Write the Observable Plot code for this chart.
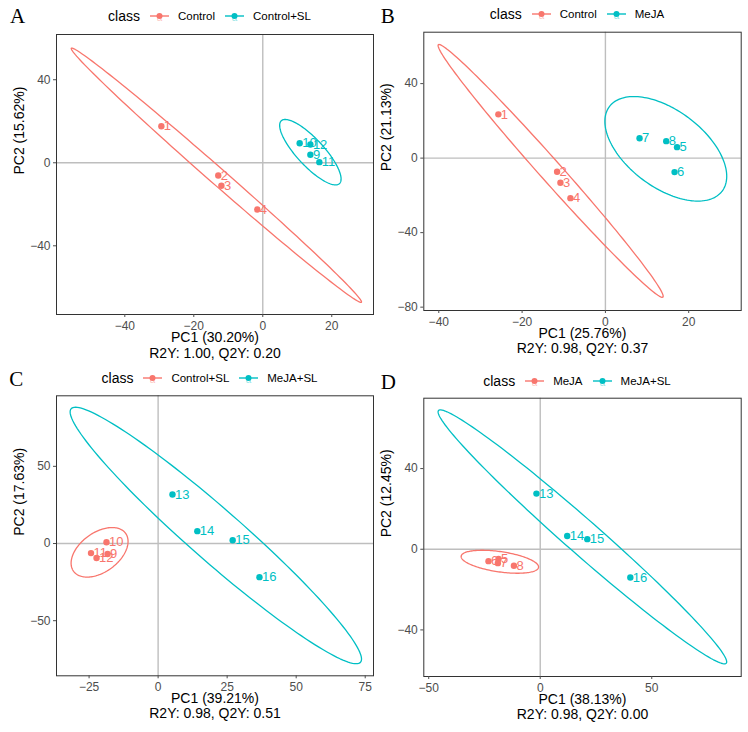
<!DOCTYPE html>
<html>
<head>
<meta charset="utf-8">
<script src="https://cdn.jsdelivr.net/npm/d3@7"></script>
<script src="https://cdn.jsdelivr.net/npm/@observablehq/plot@0.6"></script>
<style>
  html, body { margin: 0; padding: 0; background: #fff; }
  #root { position: relative; width: 748px; height: 732px; background: #fff; font-family: 'Liberation Sans', Arial, sans-serif; }
  .panel { position: absolute; width: 374px; height: 366px; }
  .panel svg.plot { position: absolute; left: 0; top: 0; }
  .letter { position: absolute; font-family: 'Liberation Serif', 'Times New Roman', serif; font-size: 21px; line-height: 21px; color: #000; }
  .legend { position: absolute; display: flex; align-items: center; justify-content: center; height: 20px; }
  .legend .title { font-size: 14px; color: #000; margin-right: 10px; }
  .legend .lab { font-size: 11.5px; color: #000; margin-right: 10px; }
  .legend svg { margin-right: 9px; }
</style>
</head>
<body>
<div id="root"></div>
<script>
// ---------- data ----------
const COLORS = ["#F8766D", "#00BFC4"];

// Panel A
const A_classes = ["Control", "Control+SL"];
const A_label = ["1", "2", "3", "4", "10", "12", "9", "11"];
const A_pc1 = [-29.4, -12.9, -12.0, -1.6, 10.7, 13.8, 13.8, 16.4];
const A_pc2 = [17.6, -6.1, -11.1, -22.5, 9.4, 8.8, 3.9, 0.3];
const A_cls = ["Control", "Control", "Control", "Control", "Control+SL", "Control+SL", "Control+SL", "Control+SL"];
const A_ell_cx = [-13.45, 13.8];
const A_ell_cy = [-6.0, 5.1];
const A_ell_ux = [42.05, 8.43];
const A_ell_uy = [-61.2, -15.13];
const A_ell_vx = [1.56, 2.87];
const A_ell_vy = [2.97, 4.42];
const A_xticks = [-40, -20, 0, 20];
const A_yticks = [-40, 0, 40];
const A_titles = ["PC1 (30.20%)", "R2Y: 1.00, Q2Y: 0.20", "PC2 (15.62%)"];

// Panel B
const B_classes = ["Control", "MeJA"];
const B_label = ["1", "2", "3", "4", "7", "8", "5", "6"];
const B_pc1 = [-25.7, -11.6, -10.8, -8.4, 8.2, 14.6, 17.2, 16.6];
const B_pc2 = [23.5, -7.3, -13.2, -21.5, 10.7, 9.1, 5.9, -7.5];
const B_cls = ["Control", "Control", "Control", "Control", "MeJA", "MeJA", "MeJA", "MeJA"];
const B_ell_cx = [-13.15, 14.5];
const B_ell_cy = [-6.85, 5.0];
const B_ell_ux = [26.95, 13.54];
const B_ell_uy = [-67.75, -22.67];
const B_ell_vx = [1.94, 5.53];
const B_ell_vy = [3.85, 16.54];
const B_xticks = [-40, -20, 0, 20];
const B_yticks = [-80, -40, 0, 40];
const B_titles = ["PC1 (25.76%)", "R2Y: 0.98, Q2Y: 0.37", "PC2 (21.13%)"];

// Panel C
const C_classes = ["Control+SL", "MeJA+SL"];
const C_label = ["10", "11", "12", "9", "13", "14", "15", "16"];
const C_pc1 = [-18.7, -24.3, -22.3, -18.3, 5.2, 14.2, 27.0, 36.7];
const C_pc2 = [0.8, -6.2, -9.4, -6.8, 31.8, 8.0, 2.1, -21.8];
const C_cls = ["Control+SL", "Control+SL", "Control+SL", "Control+SL", "MeJA+SL", "MeJA+SL", "MeJA+SL", "MeJA+SL"];
const C_ell_cx = [-21.2, 20.9];
const C_ell_cy = [-5.7, 5.2];
const C_ell_ux = [9.42, 52.4];
const C_ell_uy = [12.31, -82.1];
const C_ell_vx = [4.2, 6.2];
const C_ell_vy = [-10.3, 12.7];
const C_xticks = [-25, 0, 25, 50, 75];
const C_yticks = [-50, 0, 50];
const C_titles = ["PC1 (39.21%)", "R2Y: 0.98, Q2Y: 0.51", "PC2 (17.63%)"];

// Panel D
const D_classes = ["MeJA", "MeJA+SL"];
const D_label = ["6", "5", "7", "8", "13", "14", "15", "16"];
const D_pc1 = [-23.2, -18.7, -19.0, -11.8, -1.7, 12.1, 21.1, 40.4];
const D_pc2 = [-5.9, -4.8, -6.9, -8.2, 27.6, 6.6, 5.0, -14.0];
const D_cls = ["MeJA", "MeJA", "MeJA", "MeJA", "MeJA+SL", "MeJA+SL", "MeJA+SL", "MeJA+SL"];
const D_ell_cx = [-18.1, 18.9];
const D_ell_cy = [-6.2, 6.15];
const D_ell_ux = [17.35, 64.5];
const D_ell_uy = [-2.77, -62.65];
const D_ell_vx = [0.65, 5.03];
const D_ell_vy = [4.98, 6.33];
const D_xticks = [-50, 0, 50];
const D_yticks = [-40, 0, 40];
const D_titles = ["PC1 (38.13%)", "R2Y: 0.98, Q2Y: 0.00", "PC2 (12.45%)"];

// ---------- layout ----------
const panels = [
  { letter: "A", left: 0, top: 0, letterX: 10, letterY: 6.3, legendY: 16,
    m: [34, 1, 52, 56], xd: [-59.8, 32.1], yd: [-73.1, 61.8], statDy: 43,
    classes: A_classes, label: A_label, pc1: A_pc1, pc2: A_pc2, cls: A_cls,
    e: [A_ell_cx, A_ell_cy, A_ell_ux, A_ell_uy, A_ell_vx, A_ell_vy], xt: A_xticks, yt: A_yticks, titles: A_titles },
  { letter: "B", left: 374, top: 0, letterX: 6.7, letterY: 5.6, legendY: 14.3,
    m: [31.7, 7.3, 56, 49.3], xd: [-43.6, 32.6], yd: [-81.8, 67.6], statDy: 42,
    classes: B_classes, label: B_label, pc1: B_pc1, pc2: B_pc2, cls: B_cls,
    e: [B_ell_cx, B_ell_cy, B_ell_ux, B_ell_uy, B_ell_vx, B_ell_vy], xt: B_xticks, yt: B_yticks, titles: B_titles },
  { letter: "C", left: 0, top: 366, letterX: 9.3, letterY: 3.0, legendY: 12.3,
    m: [29.3, 1, 56.7, 56], xd: [-36.8, 78.0], yd: [-85.7, 95.7], statDy: 42.4,
    classes: C_classes, label: C_label, pc1: C_pc1, pc2: C_pc2, cls: C_cls,
    e: [C_ell_cx, C_ell_cy, C_ell_ux, C_ell_uy, C_ell_vx, C_ell_vy], xt: C_xticks, yt: C_yticks, titles: C_titles },
  { letter: "D", left: 374, top: 366, letterX: 6.7, letterY: 5.6, legendY: 15.3,
    m: [31.7, 7.3, 56, 49.3], xd: [-52.2, 90.1], yd: [-63.1, 74.9], statDy: 42.3,
    classes: D_classes, label: D_label, pc1: D_pc1, pc2: D_pc2, cls: D_cls,
    e: [D_ell_cx, D_ell_cy, D_ell_ux, D_ell_uy, D_ell_vx, D_ell_vy], xt: D_xticks, yt: D_yticks, titles: D_titles }
];

const W = 374, H = 366;
const root = document.getElementById("root");

function keySvg(color) {
  const ns = "http://www.w3.org/2000/svg";
  const s = document.createElementNS(ns, "svg");
  s.setAttribute("width", 19); s.setAttribute("height", 14);
  s.innerHTML = `<line x1="0" x2="19" y1="7" y2="7" stroke="${color}" stroke-width="1.4"/>` +
    `<text x="9.5" y="12" text-anchor="middle" font-size="10" font-family="Liberation Sans, Arial, sans-serif" fill="${color}" fill-opacity="0.45">a</text>` +
    `<circle cx="9.5" cy="7" r="3" fill="${color}"/>`;
  return s;
}

for (const p of panels) {
  const [mt, mr, mb, ml] = p.m;
  const pts = p.label.map((l, i) => ({ label: l, x: p.pc1[i], y: p.pc2[i], cls: p.cls[i] }));
  const [cx, cy, ux, uy, vx, vy] = p.e;
  const ell = [];
  p.classes.forEach((c, k) => {
    const N = 160;
    for (let i = 0; i <= N; i++) {
      const t = 2 * Math.PI * i / N;
      ell.push({ cls: c,
        x: cx[k] + ux[k] * Math.cos(t) + vx[k] * Math.sin(t),
        y: cy[k] + uy[k] * Math.cos(t) + vy[k] * Math.sin(t) });
    }
  });

  const chart = Plot.plot({
    width: W, height: H,
    marginTop: mt, marginRight: mr, marginBottom: mb, marginLeft: ml,
    style: { fontFamily: "'Liberation Sans', Arial, sans-serif", background: "transparent", overflow: "visible" },
    x: { domain: p.xd },
    y: { domain: p.yd },
    color: { domain: p.classes, range: COLORS },
    marks: [
      Plot.ruleX([0], { stroke: "#bebebe", strokeWidth: 1.4 }),
      Plot.ruleY([0], { stroke: "#bebebe", strokeWidth: 1.4 }),
      Plot.line(ell, { x: "x", y: "y", z: "cls", stroke: "cls", strokeWidth: 1.3 }),
      Plot.dot(pts, { x: "x", y: "y", fill: "cls", r: 3.2 }),
      Plot.text(pts, { x: "x", y: "y", text: "label", fill: "cls", textAnchor: "start", dx: 2.5, fontSize: 13 }),
      Plot.frame({ stroke: "#333", strokeWidth: 1 }),
      Plot.axisX({ ticks: p.xt, tickSize: 3, tickPadding: 4, fontSize: 12, color: "#4d4d4d", label: null }),
      Plot.axisY({ ticks: p.yt, tickSize: 3, tickPadding: 3, fontSize: 12, color: "#4d4d4d", label: null }),
      Plot.text([p.titles[0]], { frameAnchor: "bottom", dy: 27.5, fontSize: 14, fill: "#000" }),
      Plot.text([p.titles[1]], { frameAnchor: "bottom", dy: p.statDy, fontSize: 14, fill: "#000" }),
      Plot.text([p.titles[2]], { frameAnchor: "left", rotate: -90, dx: -37.3, fontSize: 14, fill: "#000" })
    ]
  });
  chart.classList.add("plot");

  const div = document.createElement("div");
  div.className = "panel";
  div.style.left = p.left + "px";
  div.style.top = p.top + "px";
  div.appendChild(chart);

  const letter = document.createElement("div");
  letter.className = "letter";
  letter.textContent = p.letter;
  letter.style.left = p.letterX + "px";
  letter.style.top = p.letterY + "px";
  div.appendChild(letter);

  const lg = document.createElement("div");
  lg.className = "legend";
  lg.style.left = ml + "px";
  lg.style.width = (W - ml - mr) + "px";
  lg.style.top = (p.legendY - 10) + "px";
  const t = document.createElement("span");
  t.className = "title"; t.textContent = "class";
  lg.appendChild(t);
  p.classes.forEach((c, i) => {
    lg.appendChild(keySvg(COLORS[i]));
    const s = document.createElement("span");
    s.className = "lab"; s.textContent = c;
    lg.appendChild(s);
  });
  div.appendChild(lg);

  root.appendChild(div);
}
</script>
</body>
</html>
